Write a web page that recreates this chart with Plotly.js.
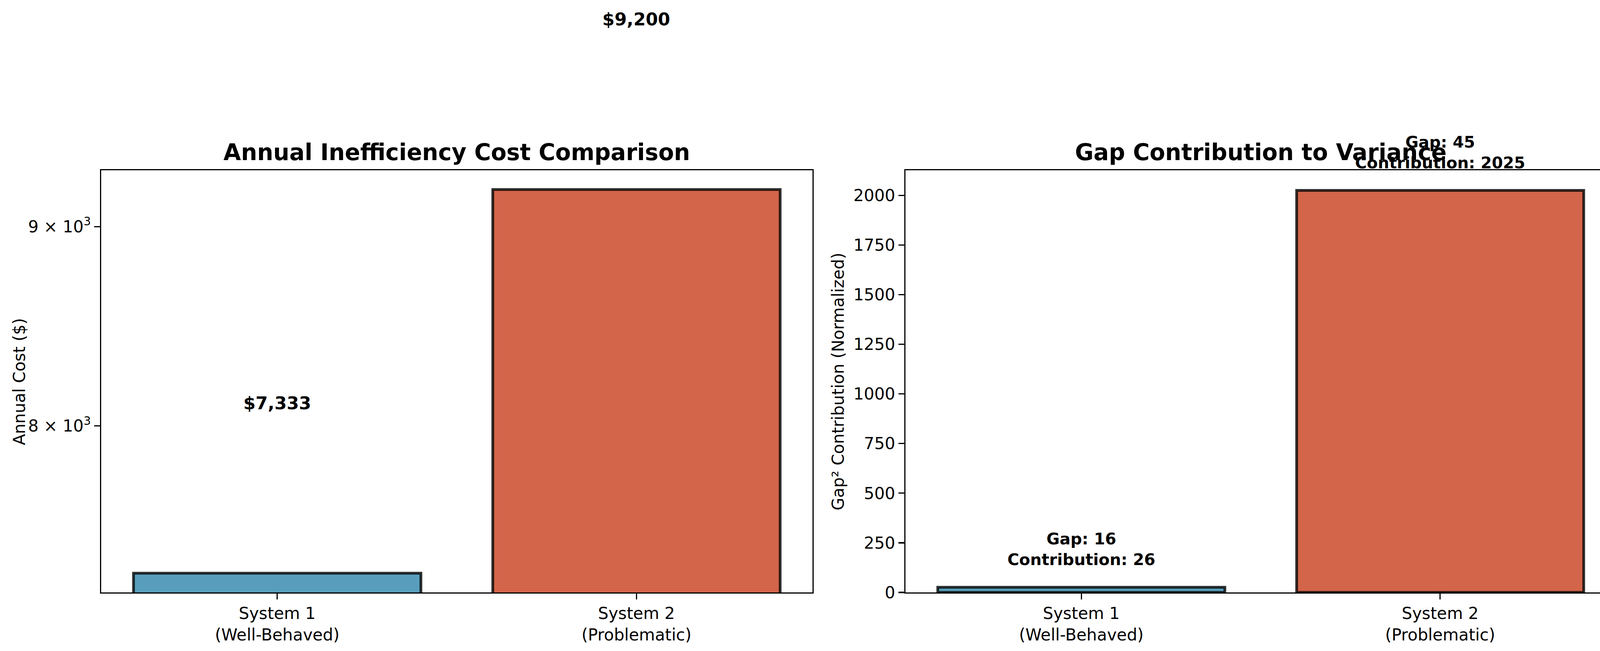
<!DOCTYPE html>
<html>
<head>
<meta charset="utf-8">
<script src="https://cdn.plot.ly/plotly-3.0.1.min.js"></script>
<style>html,body{margin:0;padding:0;background:#fff;}</style>
</head>
<body>
<div id="chart" style="width:4166px;height:1667px;"></div>
<script>
// ---- data ----
const categories = ['System 1<br>(Well-Behaved)', 'System 2<br>(Problematic)'];
const annualCost = [7333, 9200];
const gaps = [16, 45];
const contributions = [26, 2025];
const barColors = ['rgba(46,134,171,0.8)', 'rgba(199,62,29,0.8)'];
const costTickVals = [8000, 9000];
const costTickText = ['8 × 10<sup>3</sup>', '9 × 10<sup>3</sup>'];
const contribTickVals = [0, 250, 500, 750, 1000, 1250, 1500, 1750, 2000];

const W = 4166, H = 1667;
const FONT = 'DejaVu Sans';
const edge = {color: 'rgba(0,0,0,0.8)', width: 7};

// matplotlib-like autoscale (5% margins, log space for left axis)
const lmin = Math.log10(Math.min(...annualCost)), lmax = Math.log10(Math.max(...annualCost));
const lm = (lmax - lmin) * 0.05;
const leftRange = [lmin - lm, lmax + lm];
const rightRange = [0, Math.max(...contributions) * 1.05];

const traces = [
  {type: 'bar', x: categories, y: annualCost, xaxis: 'x', yaxis: 'y',
   marker: {color: barColors, line: edge}, hoverinfo: 'none'},
  {type: 'bar', x: categories, y: contributions, xaxis: 'x2', yaxis: 'y2',
   marker: {color: barColors, line: edge}, hoverinfo: 'none'}
];

const axBase = {
  showline: true, mirror: true, linecolor: '#000', linewidth: 3.3,
  ticks: 'outside', ticklen: 14.6, tickwidth: 3.3, tickcolor: '#000',
  showgrid: false, zeroline: false, automargin: false,
  tickfont: {family: FONT, size: 42, color: '#000'}
};

const px = v => v / W, py = v => 1 - v / H;

const annotations = [];
// subplot titles
annotations.push({xref: 'paper', yref: 'paper', x: px(1169.5), y: py(426), xanchor: 'center', yanchor: 'bottom',
  text: '<b>Annual Inefficiency Cost Comparison</b>', showarrow: false, font: {family: FONT, size: 58, color: '#000'}});
annotations.push({xref: 'paper', yref: 'paper', x: px(3227.5), y: py(426), xanchor: 'center', yanchor: 'bottom',
  text: '<b>Gap Contribution to Variance</b>', showarrow: false, font: {family: FONT, size: 58, color: '#000'}});
// y-axis titles
annotations.push({xref: 'paper', yref: 'paper', x: px(49), y: py(977), xanchor: 'center', yanchor: 'middle',
  textangle: -90, text: 'Annual Cost ($)', showarrow: false, font: {family: FONT, size: 42, color: '#000'}});
annotations.push({xref: 'paper', yref: 'paper', x: px(2145), y: py(977), xanchor: 'center', yanchor: 'middle',
  textangle: -90, text: 'Gap² Contribution (Normalized)', showarrow: false, font: {family: FONT, size: 42, color: '#000'}});
// value labels (left: log axis, placed via axis-domain fraction so off-range labels still show)
annualCost.forEach((v, i) => {
  const frac = (Math.log10(v * 1.1) - leftRange[0]) / (leftRange[1] - leftRange[0]);
  annotations.push({xref: 'x', yref: 'y domain', x: categories[i], y: frac, xanchor: 'center', yanchor: 'bottom',
    yshift: -6, text: '<b>$' + v.toLocaleString('en-US') + '</b>', showarrow: false,
    font: {family: FONT, size: 45, color: '#000'}});
});
contributions.forEach((v, i) => {
  const frac = (v + 100 - rightRange[0]) / (rightRange[1] - rightRange[0]);
  annotations.push({xref: 'x2', yref: 'y2 domain', x: categories[i], y: frac, xanchor: 'center', yanchor: 'bottom',
    yshift: -6, text: '<b>Gap: ' + gaps[i] + '<br>Contribution: ' + v + '</b>', showarrow: false,
    font: {family: FONT, size: 41, color: '#000'}});
});

const layout = {
  width: W, height: H,
  margin: {l: 0, r: 0, t: 0, b: 0},
  paper_bgcolor: '#fff', plot_bgcolor: '#fff',
  showlegend: false, bargap: 0.2,
  font: {family: FONT, color: '#000'},
  xaxis: Object.assign({}, axBase, {domain: [259 / W, 2080 / W], type: 'category', range: [-0.49, 1.49], anchor: 'y'}),
  yaxis: Object.assign({}, axBase, {domain: [1 - 1517 / H, 1 - 436 / H], type: 'log', range: leftRange,
    tickmode: 'array', tickvals: costTickVals, ticktext: costTickText, anchor: 'x'}),
  xaxis2: Object.assign({}, axBase, {domain: [2318 / W, 4137 / W], type: 'category', range: [-0.49, 1.49], anchor: 'y2'}),
  yaxis2: Object.assign({}, axBase, {domain: [1 - 1517 / H, 1 - 436 / H], range: rightRange,
    tickmode: 'array', tickvals: contribTickVals, anchor: 'x2'}),
  annotations: annotations
};

Plotly.newPlot('chart', traces, layout, {displayModeBar: false, staticPlot: true});
</script>
</body>
</html>
